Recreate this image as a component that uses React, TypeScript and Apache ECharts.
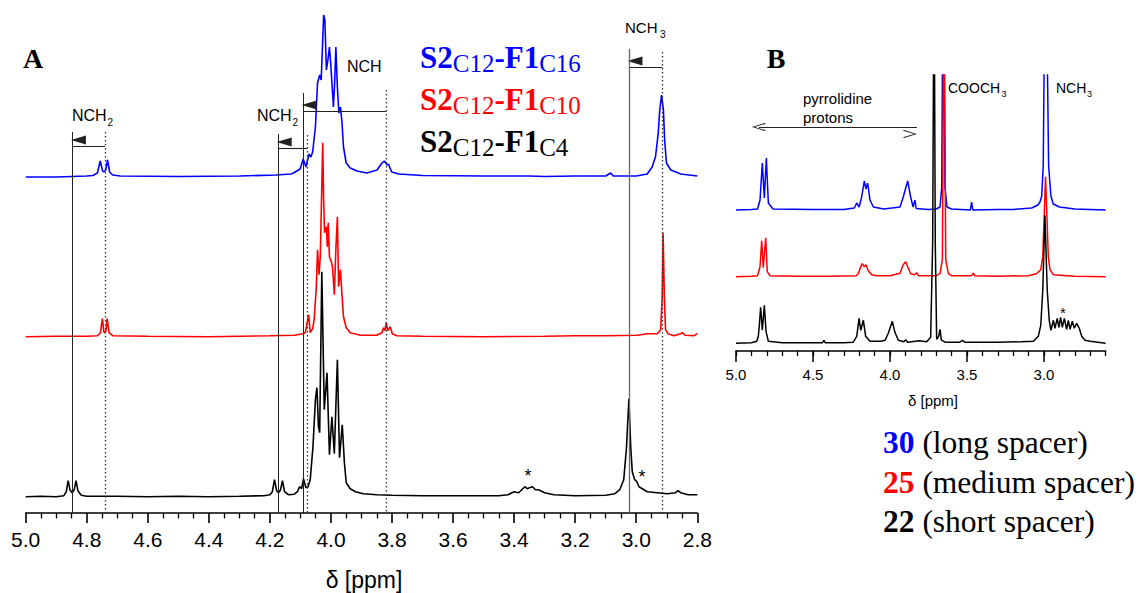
import React, { useEffect, useRef } from "react";
import * as echarts from "echarts";

// ---- Panel A spectra: [chemical shift / ppm, intensity above the trace's baseline] ----
const aBlue: number[][] = [
  [5.0, 0], [4.9, 0], [4.8, 1], [4.78, 1.5], [4.765, 4], [4.756, 16], [4.748, 6], [4.744, 5],
  [4.738, 7], [4.732, 17], [4.725, 5], [4.715, 2], [4.69, 1], [4.5, 0.5], [4.3, 1], [4.18, 2],
  [4.13, 3], [4.123, 4], [4.101, 8], [4.091, 18], [4.082, 10], [4.072, 23], [4.066, 20], [4.06, 25],
  [4.051, 50], [4.044, 94], [4.037, 102], [4.032, 97], [4.027, 137], [4.024, 162], [4.02, 157],
  [4.015, 107], [4.01, 117], [4.005, 130], [4.001, 114], [3.996, 90], [3.992, 70], [3.988, 94],
  [3.984, 130], [3.979, 90], [3.974, 64], [3.969, 70], [3.964, 55], [3.959, 30], [3.95, 14],
  [3.937, 9], [3.915, 6], [3.882, 4], [3.849, 7], [3.833, 14], [3.825, 16], [3.816, 12], [3.812, 13],
  [3.801, 5], [3.778, 3], [3.7, 1.5], [3.5, 1], [3.35, 1], [3.3, 0.5], [3.2, 1], [3.1, 1], [3.084, 4],
  [3.075, 1], [3.0, 1], [2.964, 3], [2.948, 10], [2.937, 20], [2.928, 44], [2.923, 67], [2.917, 82],
  [2.911, 67], [2.907, 37], [2.901, 14], [2.887, 7], [2.854, 3], [2.8, 1],
];
const aRed: number[][] = [
  [5.0, 0], [4.9, 0.5], [4.8, 0.5], [4.765, 1], [4.755, 4], [4.749, 18], [4.744, 5], [4.741, 4],
  [4.737, 6], [4.733, 18], [4.727, 4], [4.715, 1], [4.6, 0.5], [4.4, 0], [4.2, 1], [4.12, 1.5],
  [4.092, 3], [4.084, 4], [4.073, 22], [4.068, 4], [4.06, 8], [4.055, 17], [4.048, 50], [4.044, 87],
  [4.039, 62], [4.035, 80], [4.031, 137], [4.027, 194], [4.024, 137], [4.021, 104], [4.015, 110],
  [4.012, 90], [4.009, 114], [4.005, 80], [3.999, 75], [3.995, 70], [3.989, 42], [3.984, 87],
  [3.979, 120], [3.975, 50], [3.969, 67], [3.964, 42], [3.959, 20], [3.95, 9], [3.937, 4],
  [3.904, 1.5], [3.85, 1.5], [3.833, 4], [3.828, 9], [3.823, 6], [3.819, 14], [3.814, 6], [3.806, 10],
  [3.799, 3], [3.784, 1], [3.7, 0.5], [3.5, 0], [3.3, 0.5], [3.2, 1], [3.1, 1], [3.0, 1.5], [2.984, 2],
  [2.964, 3], [2.931, 3], [2.92, 7], [2.915, 40], [2.912, 104], [2.908, 40], [2.904, 7], [2.896, 3],
  [2.876, 1], [2.855, 3], [2.849, 4], [2.84, 1.5], [2.81, 1], [2.8, 3],
];
const aBlack: number[][] = [
  [5.0, 0], [4.95, 0.5], [4.9, 0], [4.875, 1], [4.867, 5], [4.861, 16], [4.855, 7], [4.848, 4],
  [4.841, 7], [4.835, 16], [4.829, 6], [4.818, 1.5], [4.8, 0.5], [4.7, 0.5], [4.6, 0], [4.5, 0.5],
  [4.4, 0], [4.3, 0.5], [4.22, 1], [4.2, 2], [4.192, 5], [4.185, 17], [4.178, 6], [4.172, 4],
  [4.165, 7], [4.159, 16], [4.152, 5], [4.14, 2], [4.12, 2.5], [4.11, 5], [4.103, 10], [4.096, 8],
  [4.09, 18], [4.082, 9], [4.075, 10], [4.068, 17], [4.059, 50], [4.051, 97], [4.046, 109],
  [4.041, 70], [4.037, 64], [4.03, 225], [4.022, 87], [4.013, 124], [4.005, 42], [3.997, 80],
  [3.989, 43], [3.979, 137], [3.972, 39], [3.963, 72], [3.956, 34], [3.95, 14], [3.937, 8],
  [3.92, 5], [3.894, 3], [3.85, 2], [3.8, 1.5], [3.7, 1], [3.6, 1], [3.5, 1], [3.45, 1], [3.42, 2],
  [3.4, 5], [3.385, 4], [3.375, 7], [3.365, 10], [3.357, 8], [3.35, 9], [3.34, 10], [3.33, 7],
  [3.32, 7], [3.3, 4], [3.27, 2], [3.2, 1], [3.1, 1.5], [3.07, 3], [3.054, 7], [3.041, 17],
  [3.032, 49], [3.024, 98], [3.018, 49], [3.013, 25], [3.005, 17], [2.998, 15], [2.991, 10],
  [2.98, 8], [2.964, 5], [2.931, 4], [2.898, 3], [2.871, 4], [2.863, 6], [2.855, 4], [2.83, 2], [2.8, 2],
];

// ---- Panel B spectra ----
const bBlue: number[][] = [
  [5.0, 0], [4.9, 0.5], [4.86, 1], [4.844, 10], [4.829, 47], [4.816, 12], [4.803, 52], [4.79, 7],
  [4.76, 1], [4.5, 0.5], [4.3, 0.5], [4.232, 2], [4.216, 7], [4.2, 3], [4.184, 13], [4.167, 29],
  [4.156, 21], [4.145, 27], [4.13, 10], [4.108, 3], [4.04, 1], [3.935, 3], [3.914, 13], [3.885, 29],
  [3.866, 13], [3.85, 3], [3.838, 10], [3.83, 1.5], [3.75, 0.5], [3.7, 1], [3.675, 3], [3.664, 23],
  [3.654, 300], [3.643, 23], [3.63, 3], [3.6, 1], [3.478, 0], [3.47, 8], [3.462, 0], [3.3, 0.5],
  [3.2, 0.5], [3.08, 2], [3.04, 5], [3.026, 8], [3.015, 14], [3.005, 44], [2.99, 300], [2.97, 44],
  [2.955, 14], [2.94, 6], [2.9, 3], [2.8, 1], [2.6, 0],
];
const bRed: number[][] = [
  [5.0, 0], [4.9, 0.5], [4.86, 1], [4.844, 10], [4.833, 36], [4.823, 9], [4.807, 39], [4.797, 5],
  [4.78, 1], [4.6, 0.5], [4.4, 0.5], [4.22, 1], [4.206, 3], [4.19, 10], [4.18, 13], [4.168, 10],
  [4.156, 12], [4.141, 6], [4.119, 2], [4.086, 1], [4.0, 1], [3.935, 3.5], [3.914, 12], [3.898, 15],
  [3.885, 10], [3.866, 3], [3.84, 2], [3.827, 4], [3.815, 1], [3.7, 1], [3.675, 3], [3.66, 17],
  [3.649, 300], [3.638, 17], [3.621, 3], [3.6, 1], [3.47, 1], [3.459, 3.5], [3.45, 1], [3.3, 0.5],
  [3.1, 1], [3.05, 3], [3.021, 7], [3.008, 20], [2.99, 100], [2.972, 20], [2.961, 7], [2.94, 2],
  [2.8, 0.5], [2.6, 0],
];
const bBlack: number[][] = [
  [5.0, 0], [4.9, 0.5], [4.865, 2], [4.855, 7], [4.849, 17], [4.84, 36], [4.829, 13], [4.816, 38],
  [4.805, 12], [4.79, 2], [4.7, 0.5], [4.5, 0.5], [4.44, 0.5], [4.429, 3], [4.42, 0.5], [4.3, 0.5],
  [4.24, 1], [4.216, 7], [4.201, 25], [4.19, 13], [4.173, 23], [4.158, 7], [4.13, 2], [4.06, 2],
  [4.032, 3], [4.011, 10], [3.985, 22], [3.968, 11], [3.946, 3], [3.91, 1.5], [3.898, 3.5],
  [3.885, 1], [3.81, 2.5], [3.762, 1.5], [3.736, 6], [3.723, 100], [3.714, 400], [3.706, 100],
  [3.697, 4], [3.684, 7], [3.675, 14], [3.667, 3.5], [3.64, 1], [3.55, 1], [3.528, 3], [3.515, 1],
  [3.45, 1], [3.3, 1], [3.15, 1.5], [3.069, 2], [3.037, 7], [3.021, 18], [3.008, 53], [2.994, 128],
  [2.979, 53], [2.966, 23], [2.955, 13], [2.939, 23], [2.929, 15], [2.914, 25], [2.903, 16],
  [2.892, 26], [2.881, 16], [2.868, 25], [2.853, 14], [2.842, 23], [2.831, 14], [2.816, 22],
  [2.803, 15], [2.788, 20], [2.771, 15], [2.755, 7], [2.734, 3], [2.7, 2], [2.6, 0],
];

// ---- Axis ticks of panel B ----
const bMajorTicks = [3.0, 3.5, 4.0, 4.5, 5.0];
const bMinorTicks = [2.6, 2.7, 2.8, 2.9, 3.0, 3.1, 3.2, 3.3, 3.4, 3.5, 3.6, 3.7, 3.8, 3.9, 4.0,
  4.1, 4.2, 4.3, 4.4, 4.5, 4.6, 4.7, 4.8, 4.9, 5.0];

// ---- Shift markers of panel A ----
const aSolidRefs = [4.847, 4.173, 4.091, 3.024];
const aDottedRefs = [4.74, 4.078, 3.819, 2.914];
const aShiftArrows = [[4.74, 4.847], [4.078, 4.173], [3.819, 4.091], [2.914, 3.024]];
// pyrrolidine region of panel B
const bProtonSpan = [4.851, 3.825];

const BLUE = "#0000ff";
const RED = "#ff0000";
const BLACK = "#000000";
const SANS = "'Liberation Sans', Arial, Helvetica, sans-serif";
const SERIF = "'Liberation Serif', 'Times New Roman', serif";

const shift = (arr: number[][], base: number) => arr.map(([p, v]) => [p, v + base]);

const txt = (text: string, x: number, y: number, size: number, o: any = {}) => ({
  type: "text",
  x,
  y,
  silent: true,
  style: {
    text,
    fontSize: size,
    fontFamily: o.family || SANS,
    fontWeight: o.weight || "normal",
    fill: o.fill || BLACK,
    align: o.align || "left",
    verticalAlign: "middle",
  },
});

// compound label such as S2_C12-F1_C16
const compoundLabel = (x: number, y: number, color: string, tail: string) => {
  const big = 31;
  const small = 25;
  return [
    txt("S2", x, y, big, { family: SERIF, weight: "bold", fill: color }),
    txt("C12", x + 1.056 * big, y + 6, small, { family: SERIF, fill: color }),
    txt("-F1", x + 1.056 * big + 1.667 * small, y, big, { family: SERIF, weight: "bold", fill: color }),
    txt(tail, x + 1.056 * big + 1.667 * small + 1.444 * big, y + 6, small, { family: SERIF, fill: color }),
  ];
};

const spacerRow = (y: number, num: string, color: string, rest: string) => {
  const fs = 31.5;
  return [
    txt(num, 883, y, fs, { family: SERIF, weight: "bold", fill: color }),
    txt(" " + rest, 883 + fs, y, fs, { family: SERIF }),
  ];
};

const chevron = "path://M5,0 L10,11 L9,12 L5,2.4 L1,12 L0,11 Z";

export default function App() {
  const ref = useRef<HTMLDivElement>(null);

  useEffect(() => {
    document.body.style.margin = "0";
    if (!ref.current) return;
    const chart = echarts.init(ref.current, null, { renderer: "svg" });

    // baselines (in y-axis units) of the stacked traces
    const aBase = { blue: 336, red: 176.3, black: 16.3 };
    const bBase = { blue: 141, red: 74.3, black: 7.7 };

    const solidTops = [381, 379, 420, 464];
    const dottedTops = [381, 378, 423, 461];
    const arrowLevels = [367, 365, 402, 446];

    const refLines: any[] = [];
    aSolidRefs.forEach((p, i) => {
      refLines.push([
        { coord: [p, solidTops[i]], lineStyle: { color: i === 3 ? "#666" : "#222", width: i === 3 ? 1.3 : 1, type: "solid" } },
        { coord: [p, 0] },
      ]);
    });
    aDottedRefs.forEach((p, i) => {
      refLines.push([
        { coord: [p, dottedTops[i]], lineStyle: { color: "#333", width: 1.3, type: [1.5, 2.5] } },
        { coord: [p, 0] },
      ]);
    });

    const arrowLines = aShiftArrows.map(([from, to], i) => [
      { coord: [from, arrowLevels[i]] },
      { coord: [to, arrowLevels[i]] },
    ]);

    const lineSeries = (name: string, data: number[][], color: string, axis: number, width: number) => ({
      name,
      type: "line",
      xAxisIndex: axis,
      yAxisIndex: axis,
      data,
      symbol: "none",
      silent: true,
      clip: true,
      lineStyle: { color, width },
      z: 3,
    });

    const option: any = {
      animation: false,
      backgroundColor: "#ffffff",
      grid: [
        { left: 25.7, right: 441.7, top: 10, bottom: 80, outerBoundsMode: "none" },
        { left: 736, right: 33.4, top: 75, bottom: 242, outerBoundsMode: "none" },
      ],
      xAxis: [
        {
          gridIndex: 0,
          type: "value",
          position: "bottom",
          inverse: true,
          min: 2.8,
          max: 5.0,
          interval: 0.2,
          axisLine: { lineStyle: { color: BLACK, width: 1.6 } },
          axisTick: { length: 10, lineStyle: { color: BLACK, width: 1.6 } },
          minorTick: { show: true, splitNumber: 4, length: 5.5, lineStyle: { color: BLACK, width: 1.3 } },
          axisLabel: {
            color: BLACK,
            fontSize: 21,
            fontFamily: SANS,
            margin: 16,
            formatter: (v: number) => v.toFixed(1),
          },
          splitLine: { show: false },
        },
        {
          gridIndex: 1,
          type: "value",
          position: "bottom",
          inverse: true,
          min: 2.6,
          max: 5.0,
          axisLine: { lineStyle: { color: BLACK, width: 1.5 } },
          axisTick: { customValues: bMajorTicks, length: 11, lineStyle: { color: BLACK, width: 1.5 } },
          axisLabel: {
            customValues: bMajorTicks,
            color: BLACK,
            fontSize: 15,
            fontFamily: SANS,
            margin: 16,
            formatter: (v: number) => v.toFixed(1),
          },
          splitLine: { show: false },
        },
        {
          gridIndex: 1,
          type: "value",
          position: "bottom",
          offset: 0,
          inverse: true,
          min: 2.6,
          max: 5.0,
          axisLine: { show: false },
          axisTick: { customValues: bMinorTicks, length: 5, lineStyle: { color: BLACK, width: 1.3 } },
          axisLabel: { show: false },
          splitLine: { show: false },
        },
      ],
      yAxis: [
        { gridIndex: 0, type: "value", min: 0, max: 503, show: false },
        { gridIndex: 1, type: "value", min: 0, max: 276, show: false },
      ],
      series: [
        { ...lineSeries("S2C12-F1C16", shift(aBlue, aBase.blue), BLUE, 0, 1.6) },
        {
          ...lineSeries("S2C12-F1C10", shift(aRed, aBase.red), RED, 0, 1.6),
          markLine: {
            silent: true,
            symbol: ["none", "triangle"],
            symbolSize: [9, 15],
            symbolOffset: [0, 6],
            label: { show: false },
            lineStyle: { color: "#222", width: 1.1, type: "solid" },
            data: arrowLines,
          },
        },
        {
          ...lineSeries("S2C12-F1C4", shift(aBlack, aBase.black), BLACK, 0, 1.6),
          markLine: {
            silent: true,
            symbol: "none",
            label: { show: false },
            data: refLines,
          },
        },
        { ...lineSeries("30", shift(bBlue, bBase.blue), BLUE, 1, 1.5) },
        { ...lineSeries("25", shift(bRed, bBase.red), RED, 1, 1.5) },
        {
          ...lineSeries("22", shift(bBlack, bBase.black), BLACK, 1, 1.5),
          markLine: {
            silent: true,
            clip: false,
            symbol: [chevron, chevron],
            symbolSize: [8, 14],
            symbolOffset: [0, 7],
            label: { show: false },
            lineStyle: { color: "#222", width: 1, type: "solid" },
            data: [[{ coord: [bProtonSpan[0], 224] }, { coord: [bProtonSpan[1], 224] }]],
          },
        },
      ],
      graphic: {
        elements: [
          txt("A", 33, 58, 28, { family: SERIF, weight: "bold", align: "center" }),
          txt("B", 776, 58, 28, { family: SERIF, weight: "bold", align: "center" }),
          // panel A assignments
          txt("NCH", 72, 115, 16),
          txt("2", 107.5, 122, 10),
          txt("NCH", 257, 115, 16),
          txt("2", 292.5, 122, 10),
          txt("NCH", 347, 66, 16),
          txt("NCH", 625, 27, 15),
          txt("3", 660, 34.5, 10),
          txt("*", 528, 476, 18, { align: "center" }),
          txt("*", 642, 477, 18, { align: "center" }),
          ...compoundLabel(420, 57.5, BLUE, "C16"),
          ...compoundLabel(420, 99, RED, "C10"),
          ...compoundLabel(420, 141, BLACK, "C4"),
          txt("δ [ppm]", 364, 580, 23, { align: "center" }),
          // panel B assignments
          txt("pyrrolidine", 803, 98, 15),
          txt("protons", 803, 117, 15),
          txt("COOCH", 948, 88, 14),
          txt("3", 1001.5, 93.5, 9),
          txt("NCH", 1056, 88, 14),
          txt("3", 1087, 93.5, 9),
          txt("*", 1063, 312, 15, { align: "center" }),
          txt("δ [ppm]", 933, 400, 15, { align: "center" }),
          ...spacerRow(442, "30", BLUE, "(long spacer)"),
          ...spacerRow(482, "25", RED, "(medium spacer)"),
          ...spacerRow(521, "22", BLACK, "(short spacer)"),
        ],
      },
    };

    chart.setOption(option);
    return () => chart.dispose();
  }, []);

  return <div ref={ref} style={{ width: 1139, height: 593 }} />;
}
